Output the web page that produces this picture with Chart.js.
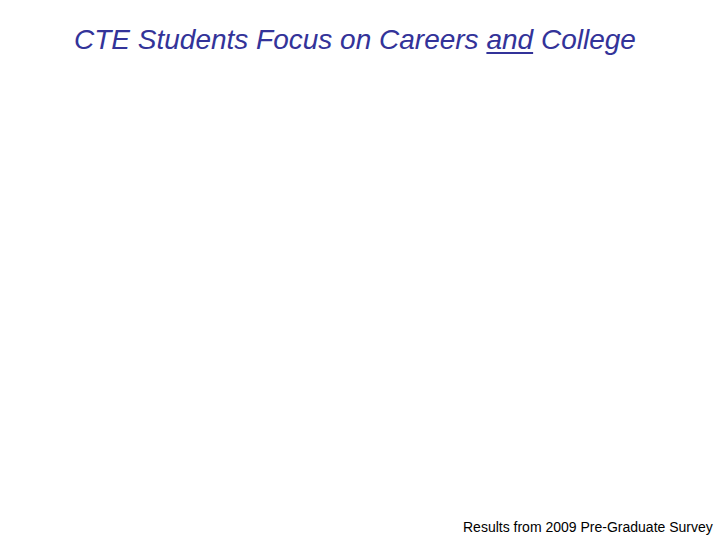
<!DOCTYPE html>
<html>
<head>
<meta charset="utf-8">
<script src="https://cdn.jsdelivr.net/npm/chart.js@4/dist/chart.umd.min.js"></script>
<style>
  html, body { margin: 0; padding: 0; background: #fff; }
  #page { position: relative; width: 720px; height: 540px; overflow: hidden; }
  #title {
    position: absolute; left: 74px; top: 24px; white-space: nowrap;
    font-family: "Liberation Sans", Arial, sans-serif; font-style: italic;
    font-size: 28px; color: #333399;
  }
  #title u { text-decoration-thickness: 2px; text-underline-offset: 3px; }
  #chartBox { position: absolute; left: 40px; top: 70px; width: 640px; height: 430px; }
  #note {
    position: absolute; left: 463px; top: 519px; white-space: nowrap;
    font-family: "Liberation Sans", Arial, sans-serif; font-size: 14px; color: #000;
  }
</style>
</head>
<body>
<div id="page">
  <div id="title">CTE Students Focus on Careers <u>and</u> College</div>
  <div id="chartBox"><canvas id="chart"></canvas></div>
  <div id="note">Results from 2009 Pre-Graduate Survey</div>
</div>
<script>
// the chart area of the slide is blank: no categories or values are shown
const categories = []
const values = []

const ctx = document.getElementById('chart').getContext('2d')

const chartData = {
  labels: categories,
  datasets: [
    {
      data: values,
      backgroundColor: '#333399',
    },
  ],
}

const config = {
  type: 'bar',
  data: chartData,
  options: {
    responsive: true,
    maintainAspectRatio: false,
    animation: false,
    plugins: {
      legend: { display: false },
      tooltip: { enabled: false },
    },
    scales: {
      x: { display: false },
      y: { display: false },
    },
  },
}

new Chart(ctx, config)
</script>
</body>
</html>
